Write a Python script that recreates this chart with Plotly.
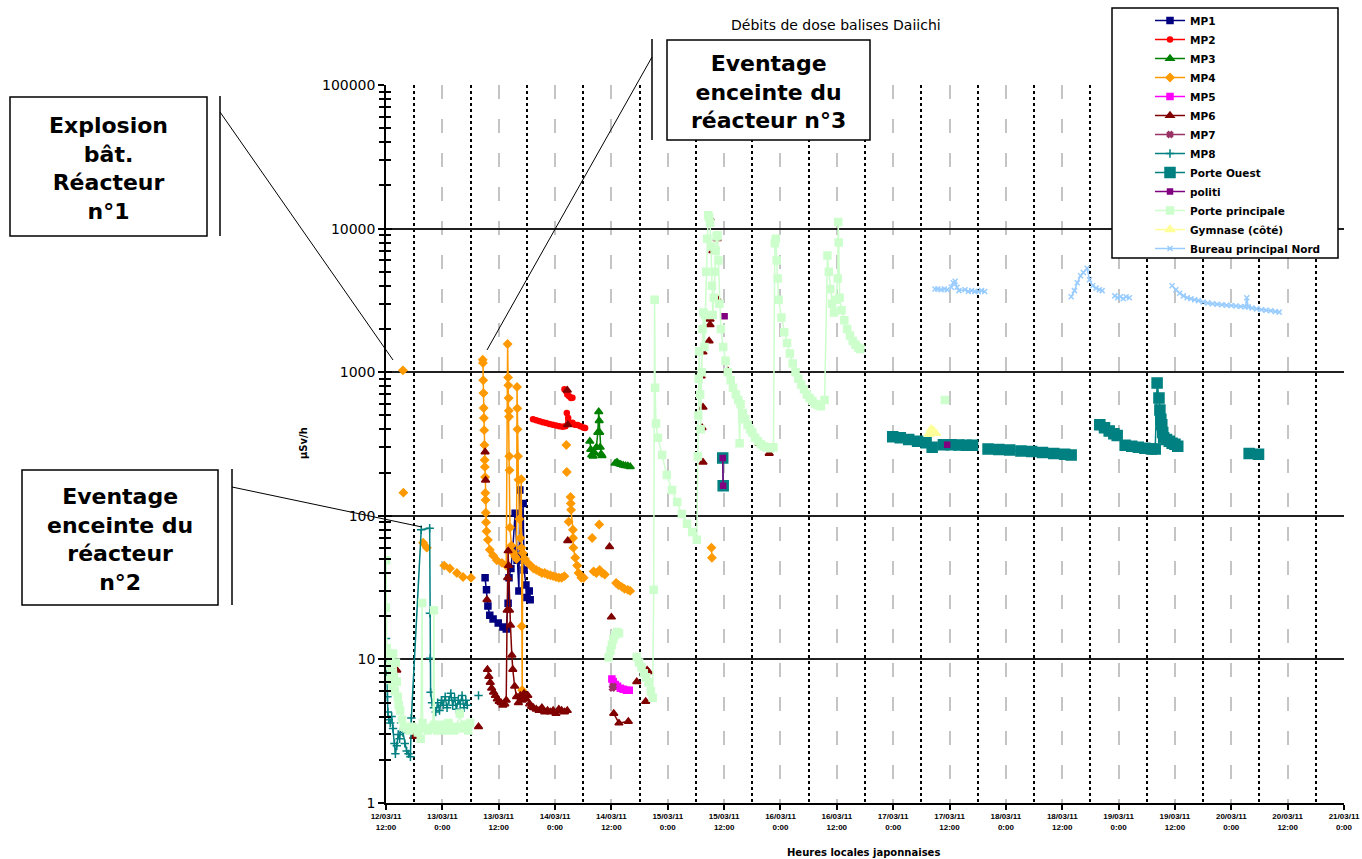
import pandas as pd
import plotly.graph_objects as go

# Time origin of the axis: 12/03/2011 12:00 (Japanese local time)
START = pd.Timestamp("2011-03-12 12:00")
N = None  # gap in a series

# ---- series: hours since START, dose rate in µSv/h ----
mp1_h = [21.1, 21.4, 21.7, 22.1, 22.8, 23.9, 24.9, 25.6, 26.0, 26.2, 26.6, 27.0, 27.5, 27.9, 28.3,
         28.5, 28.7, 29.2, 29.4, 29.8, 30.0, 30.5, 30.7]
mp1_v = [37, 30.5, 23.5, 20.3, 19.1, 17.9, 16.8, 16.3, 24.6, 37, 43, 59, 104, 49, 30,
         151, 53, 122, 42, 33, 27, 30, 26]

mp2_h = [31.3, 32.0, 32.7, 33.4, 34.1, 34.8, 35.5, 36.2, 36.9, 37.6, 38.2, 38.5, 38.8, 39.2, 39.7,
         40.2, 40.8, 41.4, 42.0, 42.4, N, 38.0, 38.3, 38.6, 39.0, 39.4, 39.7]
mp2_v = [470, 462, 455, 448, 442, 436, 430, 425, 420, 417, 420, 520, 480, 440, 445,
         430, 428, 420, 412, 408, N, 760, 740, 700, 680, 660, 665]

mp3_h = [43.4, 43.6, 43.8, 44.1, 44.4, 44.8, 45.1, 45.3, 45.4, 45.5, 45.6, 45.8, 46.0, N,
         48.8, 49.2, 49.6, 50.0, 50.5, 51.0, 51.5, 52.0]
mp3_v = [330, 290, 265, 260, 275, 300, 380, 530, 460, 380, 300, 270, 262, N,
         232, 236, 230, 228, 225, 223, 222, 220]

mp4_h = [3.6, N, 3.7, N, 7.9, N, 8.7, N, 12.4, N, 13.6, N, 15.1, N, 16.4, N, 18.1, N,
         20.6, 20.65, 20.7, 20.75, 20.8, 20.85, 20.9, 20.95, 21.0, 21.05, 21.1, 21.15, 21.2, 21.25,
         21.3, 21.4, 21.7, 22.1, 22.8, 23.6, 24.7, 25.6,
         25.9, 26.0, 26.05, 26.1, 26.15, 26.2, 26.25, 26.3, 26.4, 26.7, 27.1, 27.5, 27.8,
         27.9, 27.95, 28.0, 28.1, 28.2, 28.4, 28.6, 28.8, 28.85, 28.9, 29.0, 29.1, 29.6, 30.2,
         30.8, 31.4, 32.0, 32.6, 33.2, 33.8, 34.4, 35.0, 35.6, 36.2, 36.8, 37.4, 38.0, N,
         38.4, N, 38.5, N, 38.9, N, 39.3, 39.35, 39.4, 39.8, 39.85, 39.9, 40.3, 40.7, 41.0, 41.6,
         42.1, N, 43.9, N, 45.4, N, 44.2, 44.8, 45.5, 46.0, 46.6, N,
         49.0, 49.5, 50.2, 50.8, 51.5, 52.0, N, 69.3, 69.4]
mp4_v = [1030, N, 145, N, 65, N, 60, N, 45, N, 43, N, 40, N, 37.5, N, 37, N,
         1220, 1160, 880, 715, 563, 480, 395, 311, 245, 219, 186, 144, 129, 105,
         90, 78, 68, 58, 53, 49, 47, 45,
         1570, 920, 810, 660, 540, 490, 260, 208, 83, 62, 55, 52, 50,
         790, 560, 400, 260, 178, 95, 70, 180, 60, 17, 6.1, 55, 50, 47,
         45, 43, 42, 41, 40, 40, 39, 38.5, 38, 37.5, 37, 37, 38, N,
         311, N, 202, N, 91, N, 135, 122, 110, 80, 70, 60, 51, 45, 40, 37,
         37, N, 70, N, 87, N, 41, 40, 42, 40, 39, N,
         34, 33, 32, 31, 30.5, 30, N, 60, 51]

mp5_h = [48.1, 48.4, 48.8, 49.3, 49.9, 50.5, 51.2, 51.8]
mp5_v = [7.3, 7.0, 6.7, 6.5, 6.3, 6.2, 6.1, 6.1]

mp6_h = [2.3, N, 5.9, N, 19.7, N, 21.1, N, 21.2, N, 21.5, N,
         21.6, 21.9, 22.2, 22.5, 22.9, 23.3, 23.7, 24.1, 24.5, 24.9, 25.3, 25.6, 25.8, 25.9, 26.0,
         26.1, 26.3, 26.5, 26.8, 27.0, 27.4, 27.8, 28.2, 28.6, 29.0, 29.4, 29.8, 30.2, 30.6, 31.0,
         31.4, 32.0, 32.6, 33.2, 33.8, 34.4, 35.0, 35.6, 36.2, 36.8, 37.4, 38.0, 38.6, N,
         38.6, N, 38.7, N, 38.7, N, 47.6, N, 48.0, N, 48.5, 49.6, 51.6, N,
         53.4, N, 55.3, N, 55.6, 55.9, N,
         67.1, N, 67.5, N, 67.3, N, 67.5, N, 67.5, N, 68.8, N, 69.0, N, 69.0, N, 69.0, N,
         69.6, N, 70.5, N, 70.5, N, 72.8, N, 79.4, N, 81.6]
mp6_v = [8.4, N, 2.9, N, 3.4, N, 278, N, 177, N, 26, N,
         8.5, 7.6, 6.9, 6.3, 5.9, 5.6, 5.3, 5.1, 5.0, 4.8, 4.9, 5.2, 22, 37, 57,
         45, 22, 17.3, 10.7, 8.5, 6.5, 5.5, 5.0, 5.6, 5.2, 5.8, 5.3, 5.6, 4.9, 4.7,
         4.6, 4.5, 4.4, 4.6, 4.3, 4.4, 4.3, 4.4, 4.2, 4.5, 4.4, 4.3, 4.4, N,
         750, N, 430, N, 67, N, 61, N, 19.7, N, 4.2, 3.6, 3.7, N,
         7.0, N, 5.1, N, 8.4, 8.2, N,
         940, N, 236, N, 410, N, 570, N, 1380, N, 1650, N, 2140, N, 2340, N, 11800, N,
         7000, N, 3250, N, 8500, N, 1020, N, 320, N, 272]

mp7_h = [48.2, 48.4]
mp7_v = [6.3, 6.5]

mp8_h = [0.0, 0.1, 0.2, 0.3, 0.4, 0.6, 0.9, 1.2, 1.5, 1.8, 2.0, 2.3, 2.6, 2.9, 3.2, 3.6, 4.0,
         4.4, 4.8, 5.2, 5.4, 7.5, 9.3, 9.35, 9.4, 9.5, 9.8, 10.2, 10.6, 11.0, 11.4, 11.8, 12.2,
         12.6, 13.0, 13.4, 13.8, 14.2, 14.6, 15.0, 15.4, 15.8, 16.2, 16.6, 17.0, 17.3, N, 19.7]
mp8_v = [14, 10, 7.5, 5.5, 4.3, 3.8, 3.6, 4.0, 3.3, 2.6, 2.2, 2.5, 3.0, 2.8, 3.6, 3.1, 2.6,
         2.3, 2.2, 2.1, 3.9, 80, 82, 21, 10.2, 5.9, 5.0, 4.6, 4.3, 5.0, 4.4, 5.2, 4.8,
         5.5, 4.6, 5.2, 5.8, 4.8, 5.4, 4.5, 5.2, 4.9, 5.6, 4.6, 5.2, 4.8, N, 5.6]

porte_ouest_h = [71.7, 71.8, N,
                 107.9, 109.5, 111.3, 113.2, 115.0, 116.3, N,
                 118.7, 120.3, 122.0, 123.6, 124.9, N,
                 128.2, 130.5, 132.8, 135.2, 137.5, 139.8, 142.2, 144.5, 145.9, N,
                 152.0, 153.0, 154.0, 155.0, 155.7, N,
                 157.4, 158.8, 160.2, 161.6, 163.0, 163.8, 164.2, 164.6, 164.8, 165.0, 165.2,
                 165.4, 165.6, 166.2, 166.8, 167.4, 168.0, 168.6, N,
                 183.8, 185.8]
porte_ouest_v = [253, 162, N,
                 355, 350, 340, 330, 322, 300, N,
                 312, 312, 311, 310, 310, N,
                 292, 290, 287, 283, 280, 276, 272, 268, 265, N,
                 430, 410, 390, 372, 362, N,
                 310, 305, 300, 295, 292, 292, 840, 660, 545, 470, 430,
                 380, 350, 340, 330, 320, 315, 305, N,
                 272, 268]

politi_h = [71.7, 71.8, N, 72.1, N, 119.5]
politi_v = [253, 162, N, 2450, N, 312]

porte_principale_h = [
    0.0, 0.05, 0.15, 0.3, 0.5, 0.7, 0.9, 1.1, 1.3, 1.5, 1.7, 1.9, 2.1, 2.3, 2.5, 2.7, 3.0, 3.4,
    3.8, 4.4, 5.0, 5.6, 6.2, 6.8, 7.4, 7.7, 7.8, 8.3, 8.9, 9.5, 10.0, 10.2, 10.3, 10.9, 11.5,
    12.1, 12.7, 13.3, 13.9, 14.5, 15.1, 15.7, 16.3, 16.9, 17.5, 17.9, N,
    47.4, 47.8, 48.1, 48.4, 48.8, 49.2, 49.6, N,
    53.4, 53.9, 54.4, 54.9, 55.4, 55.9, 56.4, 56.8, 57.0, 57.2, 57.3, 57.5, 57.9, 58.8, 59.8,
    60.9, 62.0, 63.0, 64.1, 65.2, 66.2, 66.4, 66.5, 66.6, 66.7, 66.9, 67.0, 67.2, 67.4, 67.6,
    67.8, 68.0, 68.2, 68.4, 68.6, 68.8, 69.0, 69.2, 69.4, 69.6, 69.8, 70.0, 70.2, 70.4, 70.6,
    70.8, 71.0, 71.3, 71.8, 72.3, 72.8, 73.4, 73.9, 74.5, 75.0, 75.3, 75.5, 76.0, 76.5, 77.0,
    77.5, 78.0, 78.6, 79.2, 79.8, 80.4, 81.0, 81.8, 82.5, 82.8, 83.0, 83.2, 83.4, 83.6, 84.2,
    84.8, 85.4, 86.0, 86.6, 87.2, 87.8, 88.4, 89.0, 89.6, 90.2, 90.8, 91.4, 92.0, 92.6, 93.4,
    94.0, 94.3, 94.6, 95.0, 95.4, 95.8, 96.2, 96.3, 96.4, 96.6, 97.0, 97.6, 98.2, 98.8, 99.4,
    100.0, 100.6, 101.0, N, 119.0]
porte_principale_v = [
    23, 49, 12, 9.0, 11, 7.2, 10.5, 8.0, 6.5, 11, 7.5, 6.0, 9.5, 7.0, 5.5, 4.8, 4.4, 3.8,
    3.4, 3.3, 3.2, 3.4, 3.3, 3.1, 2.8, 24.7, 3.6, 3.3, 3.2, 3.3, 3.4, 22, 3.5, 3.2, 3.3,
    3.5, 3.2, 3.6, 3.3, 3.2, 3.4, 4.2, 3.3, 3.5, 3.2, 3.6, N,
    10.3, 11.5, 12.6, 13.8, 14.8, 15.5, 15.2, N,
    10.4, 9.5, 8.8, 8.0, 7.5, 6.9, 6.0, 5.4, 30.5, 3200, 780, 440, 350, 265, 192,
    151, 125, 103, 88, 77, 68, 260, 500, 900, 1400, 700, 400, 1000, 2000, 2600,
    1500, 2500, 5000, 8500, 12400, 12000, 11000, 7500, 4000, 2500, 3300, 5000, 7000, 8800, 9000,
    6000, 3000, 2000, 1500, 1200, 1000, 880, 780, 700, 640, 320, 600, 520, 470, 430,
    400, 380, 350, 330, 315, 305, 300, 295, 300, 7900, 8500, 6000, 4500, 3200, 2400,
    1900, 1600, 1350, 1150, 1000, 900, 820, 760, 700, 660, 630, 600, 590, 580, 640,
    6500, 5000, 3800, 3000, 2600, 3200, 4500, 11100, 8000, 3300, 2700, 2300, 2000, 1800, 1650,
    1550, 1480, 1450, N, 640]

gymnase_h = [115.6, 116.1, 116.6, 117.1]
gymnase_v = [370, 400, 390, 375]

bureau_nord_h = [116.9, 117.5, 118.2, 118.9, 119.5, N,
                 120.4, 120.8, 121.2, 121.6, 122.0, 123.3, 124.0, 124.7, 125.4, 126.1, 126.8, 127.5, N,
                 145.9, 146.6, 147.2, 147.9, 148.5, 149.3, 149.8, 150.5, 151.2, 151.9, 152.5, N,
                 155.2, 155.8, 156.4, 157.0, 157.6, 158.3, N,
                 167.4, 168.2, 169.0, 169.8, 170.6, 171.4, 172.2, 173.0, 174.0, 175.0, 176.0, 177.0,
                 178.0, 179.0, 180.0, 181.0, 182.0, 183.0, 183.3, 183.6, 184.4, 185.4, 186.4, 187.4,
                 188.4, 189.4, 190.2]
bureau_nord_v = [3800, 3800, 3750, 3800, 3750, N,
                 3900, 4200, 4300, 3900, 3700, 3750, 3650, 3700, 3650, 3650, 3700, 3650, N,
                 3350, 3700, 4200, 4700, 4950, 5300, 4400, 4000, 3850, 3750, 3700, N,
                 3400, 3300, 3350, 3250, 3350, 3300, N,
                 4000, 3750, 3550, 3400, 3300, 3250, 3200, 3150, 3080, 3030, 3000, 2970,
                 2950, 2930, 2910, 2890, 2870, 2860, 3300, 2850, 2800, 2760, 2720, 2700,
                 2680, 2650, 2620]

# ---- axis labels ----
tick_labels = ["12/03/11<br>12:00", "13/03/11<br>0:00", "13/03/11<br>12:00", "14/03/11<br>0:00",
               "14/03/11<br>12:00", "15/03/11<br>0:00", "15/03/11<br>12:00", "16/03/11<br>0:00",
               "16/03/11<br>12:00", "17/03/11<br>0:00", "17/03/11<br>12:00", "18/03/11<br>0:00",
               "18/03/11<br>12:00", "19/03/11<br>0:00", "19/03/11<br>12:00", "20/03/11<br>0:00",
               "20/03/11<br>12:00", "21/03/11<br>0:00"]
y_ticks = [1, 10, 100, 1000, 10000, 100000]
y_labels = ["1", "10", "100", "1000", "10000", "100000"]


def times(hours):
    return [None if h is None else START + pd.Timedelta(hours=h) for h in hours]


series = [
    ("MP1", mp1_h, mp1_v, "#000080", "square", 6),
    ("MP2", mp2_h, mp2_v, "#FF0000", "circle", 5),
    ("MP3", mp3_h, mp3_v, "#008000", "triangle-up", 7),
    ("MP4", mp4_h, mp4_v, "#FF9900", "diamond", 6),
    ("MP5", mp5_h, mp5_v, "#FF00FF", "square", 6),
    ("MP6", mp6_h, mp6_v, "#800000", "triangle-up", 7),
    ("MP7", mp7_h, mp7_v, "#993366", "x", 5),
    ("MP8", mp8_h, mp8_v, "#008080", "cross-thin-open", 6),
    ("Porte Ouest", porte_ouest_h, porte_ouest_v, "#008080", "square", 10),
    ("politi", politi_h, politi_v, "#800080", "square", 5),
    ("Porte principale", porte_principale_h, porte_principale_v, "#CCFFCC", "square", 7),
    ("Gymnase (côté)", gymnase_h, gymnase_v, "#FFFF99", "triangle-up", 8),
    ("Bureau principal Nord", bureau_nord_h, bureau_nord_v, "#99CCFF", "x-thin-open", 5),
]

fig = go.Figure()
for name, hrs, vals, color, symbol, size in series:
    fig.add_trace(go.Scatter(
        x=times(hrs), y=vals, name=name, mode="lines+markers",
        line=dict(color=color, width=1.5),
        marker=dict(color=color, symbol=symbol, size=size,
                    line=dict(color=color, width=1.5)),
        connectgaps=False,
    ))

# empty trace that anchors the overlay axis carrying the inner half of the y ticks
fig.add_trace(go.Scatter(x=[], y=[], yaxis="y2", showlegend=False, hoverinfo="skip"))

# ---- layout geometry (pixel -> paper helpers) ----
W, H = 1362, 859
ML, MR, MT, MB = 386, 18, 85, 56
PW, PH = W - ML - MR, H - MT - MB


def px_x(p):
    return (p - ML) / PW


def px_y(p):
    return (H - MB - p) / PH


tick_times = [START + pd.Timedelta(hours=12 * i) for i in range(len(tick_labels))]
mid_times = [START + pd.Timedelta(hours=6 + 12 * i) for i in range(len(tick_labels) - 1)]
y_minor = [m * 10 ** e for e in range(5) for m in range(2, 10)]

fig.update_layout(
    width=W, height=H,
    margin=dict(l=ML, r=MR, t=MT, b=MB, autoexpand=False),
    paper_bgcolor="white", plot_bgcolor="white",
    font=dict(family="Liberation Sans, Arial, sans-serif", color="black"),
    xaxis=dict(
        type="date", range=[tick_times[0], tick_times[-1]],
        tickmode="array", tickvals=tick_times, ticktext=tick_labels,
        tickfont=dict(size=8, weight="bold"),
        ticks="outside", ticklen=5, tickcolor="black", tickwidth=1.5,
        showline=True, linecolor="black", linewidth=1.5,
        showgrid=True, gridcolor="#c4c4c4", gridwidth=2, griddash="14px,20px",
        minor=dict(tickmode="array", tickvals=mid_times, showgrid=True, gridcolor="black",
                   gridwidth=1.5, griddash="3px,3px", ticks=""),
        zeroline=False,
    ),
    yaxis=dict(
        type="log", range=[0, 5],
        tickmode="array", tickvals=y_ticks, ticktext=y_labels,
        tickfont=dict(family="DejaVu Sans", size=14),
        ticks="outside", ticklen=6, tickcolor="black", tickwidth=1.5,
        minor=dict(tickmode="array", tickvals=y_minor, ticks="outside", ticklen=5,
                   tickcolor="black", tickwidth=1.5, showgrid=False),
        showline=True, linecolor="black", linewidth=1.5,
        showgrid=True, gridcolor="#202020", gridwidth=1.5,
        zeroline=False,
    ),
    yaxis2=dict(
        type="log", range=[0, 5], overlaying="y", side="left",
        tickmode="array", tickvals=y_ticks, showticklabels=False,
        ticks="inside", ticklen=6, tickcolor="black", tickwidth=1.5,
        minor=dict(tickmode="array", tickvals=y_minor, ticks="inside", ticklen=5,
                   tickcolor="black", tickwidth=1.5, showgrid=False),
        showgrid=False, showline=False, zeroline=False,
    ),
    legend=dict(
        x=px_x(1150), y=px_y(6), xanchor="left", yanchor="top",
        bgcolor="rgba(0,0,0,0)", borderwidth=0,
        font=dict(family="DejaVu Sans", size=10.5, weight="bold"), tracegroupgap=0,
    ),
    showlegend=True,
)

shapes = []
# legend frame
shapes.append(dict(type="rect", xref="paper", yref="paper",
                   x0=px_x(1112), x1=px_x(1338), y0=px_y(258), y1=px_y(8),
                   line=dict(color="black", width=1.5), fillcolor="white", layer="above"))

# callout boxes: (box x0, y0, x1, y1), accent bar x, pointer (from, to), text
callouts = [
    ((10, 97, 207, 236), 220, (220, 112, 393, 360), "Explosion<br>bât.<br>Réacteur<br>n°1"),
    ((667, 40, 870, 140), 652, (652, 57, 487, 350), "Eventage<br>enceinte du<br>réacteur n°3"),
    ((22, 470, 218, 605), 232, (232, 487, 422, 527), "Eventage<br>enceinte du<br>réacteur<br>n°2"),
]
annotations = []
for (bx0, by0, bx1, by1), bar, (lx0, ly0, lx1, ly1), text in callouts:
    shapes.append(dict(type="rect", xref="paper", yref="paper",
                       x0=px_x(bx0), x1=px_x(bx1), y0=px_y(by1), y1=px_y(by0),
                       line=dict(color="black", width=1.5), fillcolor="white", layer="above"))
    shapes.append(dict(type="line", xref="paper", yref="paper",
                       x0=px_x(bar), x1=px_x(bar), y0=px_y(by0 - 1), y1=px_y(by1),
                       line=dict(color="black", width=1.5), layer="above"))
    shapes.append(dict(type="line", xref="paper", yref="paper",
                       x0=px_x(lx0), x1=px_x(lx1), y0=px_y(ly0), y1=px_y(ly1),
                       line=dict(color="black", width=1), layer="above"))
    annotations.append(dict(xref="paper", yref="paper",
                            x=px_x((bx0 + bx1) / 2), y=px_y((by0 + by1) / 2 + 2),
                            xanchor="center", yanchor="middle",
                            text=text, showarrow=False, align="center",
                            font=dict(family="DejaVu Sans", size=22, weight="bold", color="black")))

annotations.append(dict(xref="paper", yref="paper", x=px_x(836), y=px_y(25),
                        xanchor="center", yanchor="middle",
                        text="Débits de dose balises Daiichi", showarrow=False,
                        font=dict(family="DejaVu Sans", size=14, color="black")))
annotations.append(dict(xref="paper", yref="paper", x=px_x(303), y=px_y(443),
                        xanchor="center", yanchor="middle",
                        text="µSv/h", showarrow=False, textangle=-90,
                        font=dict(family="DejaVu Sans", size=10, weight="bold", color="black")))
annotations.append(dict(xref="paper", yref="paper", x=px_x(863), y=px_y(852),
                        xanchor="center", yanchor="middle",
                        text="Heures locales japonnaises", showarrow=False,
                        font=dict(family="DejaVu Sans", size=10, weight="bold", color="black")))

fig.update_layout(shapes=shapes, annotations=annotations)
fig.write_html("out.html")
